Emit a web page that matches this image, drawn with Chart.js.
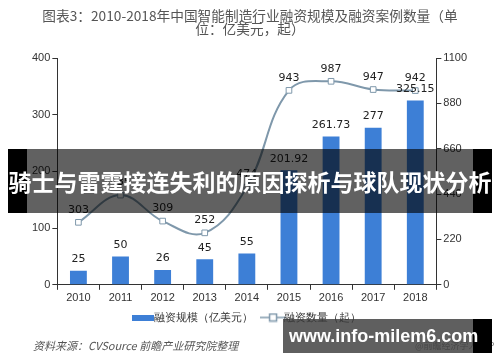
<!DOCTYPE html>
<html>
<head>
<meta charset="utf-8">
<script src="https://cdn.jsdelivr.net/npm/chart.js@4"></script>
<style>
  body { margin: 0; background: #fff; font-family: "Noto Sans CJK SC", "Noto Sans", sans-serif; }
  #wrap { position: relative; width: 500px; height: 362px; overflow: hidden; }
  #title { position: absolute; left: 0; top: 9px; width: 500px; text-align: center; font-size: 13.7px; line-height: 13px; color: #555; }
  #source { position: absolute; left: 33px; top: 337px; font-size: 11px; font-style: italic; color: #555; }
  #app { position: absolute; left: 415px; top: 339px; font-size: 9px; color: #888; white-space: nowrap; }
  #band { position: absolute; left: 8px; top: 149px; width: 484px; height: 64px; background: rgba(0,0,0,0.62); }
  #band .l { position: absolute; left: 0; top: 0; width: 19px; height: 64px; background: #000; }
  #band .r { position: absolute; right: 0; top: 0; width: 19px; height: 64px; background: #000; }
  #band .t { position: absolute; left: 0; top: 0; width: 484px; height: 64px; line-height: 64px; text-align: center; color: #fff; font-weight: bold; font-size: 23px; white-space: nowrap; }
  #mark { position: absolute; left: 283px; top: 319px; width: 209px; height: 34px; background: rgba(55,55,55,0.8); }
  #mark .r { position: absolute; right: 0; top: 0; width: 19px; height: 34px; background: #000; }
  #mark .t { position: absolute; left: 6px; top: 0; height: 34px; line-height: 34px; color: #fff; font-weight: bold; font-size: 18px; font-family: "Liberation Sans", sans-serif; white-space: nowrap; }
  canvas { position: absolute; left: 0; top: 0; }
</style>
</head>
<body>
<div id="wrap">
  <canvas id="barChart" width="500" height="362"></canvas>
  <div id="title">图表3：2010-2018年中国智能制造行业融资规模及融资案例数量（单<br>位：亿美元，起）</div>
  <div id="source">资料来源：CVSource 前瞻产业研究院整理</div>
  <div id="app">@前瞻经济学人APP</div>
  <div id="band"><div class="l"></div><div class="r"></div><div class="t">骑士与雷霆接连失利的原因探析与球队现状分析</div></div>
  <div id="mark"><div class="r"></div><div class="t">www.info-milem6.com</div></div>
</div>
<script>
var years = ['2010', '2011', '2012', '2013', '2014', '2015', '2016', '2017', '2018']
var amount = [25, 50, 26, 45, 55, 201.92, 261.73, 277, 325.15]
var amountLabels = ['25', '50', '26', '45', '55', '201.92', '261.73', '277', '325.15']
var deals = [303, 435, 309, 252, 474, 943, 987, 947, 942]

var barColor = '#3d7fd6'
var lineColor = '#7f98ab'

// legend swatches
function swatchBar() {
    var c = document.createElement('canvas')
    c.width = 22; c.height = 6
    var g = c.getContext('2d')
    g.fillStyle = barColor
    g.fillRect(0, 0, 22, 6)
    return c
}
function swatchLine() {
    var c = document.createElement('canvas')
    c.width = 26; c.height = 10
    var g = c.getContext('2d')
    g.strokeStyle = lineColor
    g.lineWidth = 1.5
    g.beginPath(); g.moveTo(0, 5); g.lineTo(26, 5); g.stroke()
    g.fillStyle = '#fff'
    g.fillRect(9, 1, 8, 8)
    g.strokeRect(9.5, 1.5, 7, 7)
    return c
}

var valueLabels = {
    id: 'valueLabels',
    afterDatasetsDraw: function (chart) {
        var ctx = chart.ctx
        ctx.save()
        ctx.font = '11px "DejaVu Sans", sans-serif'
        ctx.fillStyle = '#222'
        ctx.textAlign = 'center'
        ctx.textBaseline = 'bottom'
        chart.getDatasetMeta(0).data.forEach(function (el, i) {
            ctx.fillText(amountLabels[i], el.x, el.y - 6)
        })
        chart.getDatasetMeta(1).data.forEach(function (el, i) {
            ctx.fillText(deals[i], el.x, el.y - 7)
        })
        ctx.restore()
    }
}

var barChartCanvas = document.getElementById('barChart').getContext('2d')

new Chart(barChartCanvas, {
    type: 'bar',
    data: {
        labels: years,
        datasets: [
        {
            label: '融资规模（亿美元）',
            type: 'bar',
            data: amount,
            backgroundColor: barColor,
            barPercentage: 0.4,
            categoryPercentage: 1,
            yAxisID: 'y',
            order: 2
        },
        {
            label: '融资数量（起）',
            type: 'line',
            data: deals,
            borderColor: lineColor,
            borderWidth: 2,
            tension: 0.4,
            pointStyle: 'rect',
            pointRadius: 4,
            pointBackgroundColor: '#fff',
            pointBorderColor: lineColor,
            pointBorderWidth: 1,
            yAxisID: 'y1',
            order: 1
        }
        ]
    },
    options: {
        responsive: false,
        animation: false,
        layout: { padding: { top: 58, left: 30, right: 31, bottom: 29 } },
        plugins: {
            tooltip: { enabled: false },
            legend: {
                position: 'bottom',
                labels: {
                    usePointStyle: true,
                    font: { size: 11 },
                    color: '#333',
                    padding: 5,
                    generateLabels: function (chart) {
                        return [
                            { text: '融资规模（亿美元）   ', pointStyle: swatchBar(), datasetIndex: 0, fontColor: '#333' },
                            { text: '融资数量（起）', pointStyle: swatchLine(), datasetIndex: 1, fontColor: '#333' }
                        ]
                    }
                }
            }
        },
        scales: {
            x: {
                grid: { drawOnChartArea: false, offset: true, tickLength: 5, color: '#333' },
                border: { color: '#333' },
                ticks: { color: '#333', font: { size: 11 }, padding: 2 }
            },
            y: {
                position: 'left',
                min: 0, max: 400,
                ticks: { stepSize: 100, color: '#333', font: { size: 11 }, padding: 2 },
                grid: { drawOnChartArea: false, tickLength: 5, color: '#333' },
                border: { color: '#333' }
            },
            y1: {
                position: 'right',
                min: 0, max: 1100,
                ticks: { stepSize: 220, color: '#333', font: { size: 11 }, padding: 2,
                    callback: function (v) { return String(v) } },
                grid: { drawOnChartArea: false, tickLength: 5, color: '#333' },
                border: { color: '#333' }
            }
        }
    },
    plugins: [valueLabels]
})
</script>
</body>
</html>
